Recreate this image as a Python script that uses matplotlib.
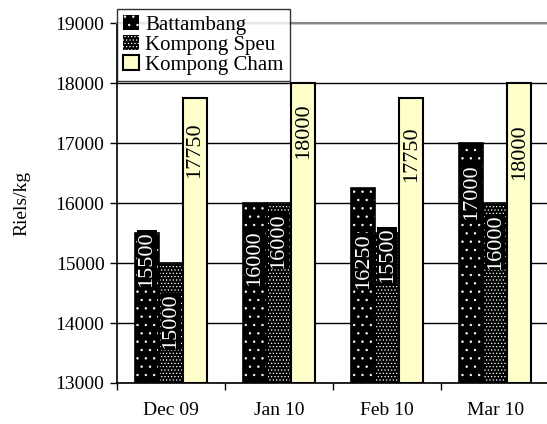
import numpy as np
import matplotlib
matplotlib.use("Agg")
import matplotlib.pyplot as plt
from matplotlib.patches import Patch

# Monthly prices (Riels/kg)
months = ["Dec 09", "Jan 10", "Feb 10", "Mar 10"]
battambang = [15500, 16000, 16250, 17000]
kompong_speu = [15000, 16000, 15500, 16000]
kompong_cham = [17750, 18000, 17750, 18000]

# where the rotated value labels sit (centre, data units)
label_y_batt = [15070, 15080, 15030, 16180]
label_y_speu = [14030, 15370, 15130, 15350]
label_y_cham = [16880, 17200, 16820, 16850]

plt.rcParams['font.family'] = ['Liberation Serif', 'DejaVu Serif']
plt.rcParams['hatch.linewidth'] = 0.5

fig = plt.figure(figsize=(5.47, 4.24), dpi=100)
ax = fig.add_axes([0.214, 0.0967, 0.79, 0.849])

x = np.arange(len(months))
w = 1 / 4.5
base = 13000
hatch_batt = '..'
hatch_speu = '.....'

# hatched dark bars: white dots on black, then a black outline on top
for vals, off, hatch in [(battambang, -w, hatch_batt), (kompong_speu, 0, hatch_speu)]:
    h = np.array(vals) - base
    ax.bar(x + off, h, w, bottom=base, color='black', edgecolor='white',
           hatch=hatch, linewidth=0, zorder=2)
    ax.bar(x + off, h, w, bottom=base, fill=False, edgecolor='black',
           linewidth=1.2, zorder=3)
ax.bar(x + w, np.array(kompong_cham) - base, w, bottom=base, color='#FFFFCC',
       edgecolor='black', linewidth=1.5, zorder=3)

for i in range(len(months)):
    ax.text(x[i] - w, label_y_batt[i], str(battambang[i]), rotation=90,
            ha='center', va='center', color='white', fontsize=16, zorder=5,
            bbox=dict(facecolor='black', edgecolor='none', pad=0.5))
    ax.text(x[i], label_y_speu[i], str(kompong_speu[i]), rotation=90,
            ha='center', va='center', color='white', fontsize=16, zorder=5,
            bbox=dict(facecolor='black', edgecolor='none', pad=0.5))
    ax.text(x[i] + w, label_y_cham[i], str(kompong_cham[i]), rotation=90,
            ha='center', va='center', color='black', fontsize=16, zorder=5)

ax.set_xlim(-0.5, len(months) - 0.5)
ax.set_ylim(13000, 19000)
ax.set_yticks(np.arange(13000, 19001, 1000))
ax.yaxis.grid(True, color='black', linewidth=1)
ax.set_axisbelow(True)

ax.set_xticks(x)
ax.set_xticklabels(months)
ax.set_xticks(np.arange(-0.5, len(months)), minor=True)
ax.tick_params(axis='x', which='major', length=0, pad=14, labelsize=14)
ax.tick_params(axis='x', which='minor', length=5, width=1, direction='out')
ax.tick_params(axis='y', length=5, width=1, direction='out', labelsize=14, pad=4)

ax.spines['top'].set_color('#888888')
ax.spines['top'].set_linewidth(1.5)
ax.spines['right'].set_visible(False)
ax.spines['left'].set_linewidth(1.2)
ax.spines['bottom'].set_linewidth(1.2)

ax.set_ylabel("Riels/kg", fontsize=14, labelpad=18)

handles = [
    Patch(facecolor='black', edgecolor='white', hatch=hatch_batt, linewidth=0, label='Battambang'),
    Patch(facecolor='black', edgecolor='white', hatch=hatch_speu, linewidth=0, label='Kompong Speu'),
    Patch(facecolor='#FFFFCC', edgecolor='black', linewidth=1.5, label='Kompong Cham'),
]
leg = ax.legend(handles=handles, loc='upper left', bbox_to_anchor=(0.0, 1.04),
                fontsize=15, frameon=True, fancybox=False, edgecolor='black',
                handlelength=0.75, handleheight=0.75, handletextpad=0.3,
                labelspacing=0.0, borderpad=0.3, borderaxespad=0)
leg.get_frame().set_linewidth(1)
leg.set_zorder(10)

fig.savefig("out.png", dpi=100)
